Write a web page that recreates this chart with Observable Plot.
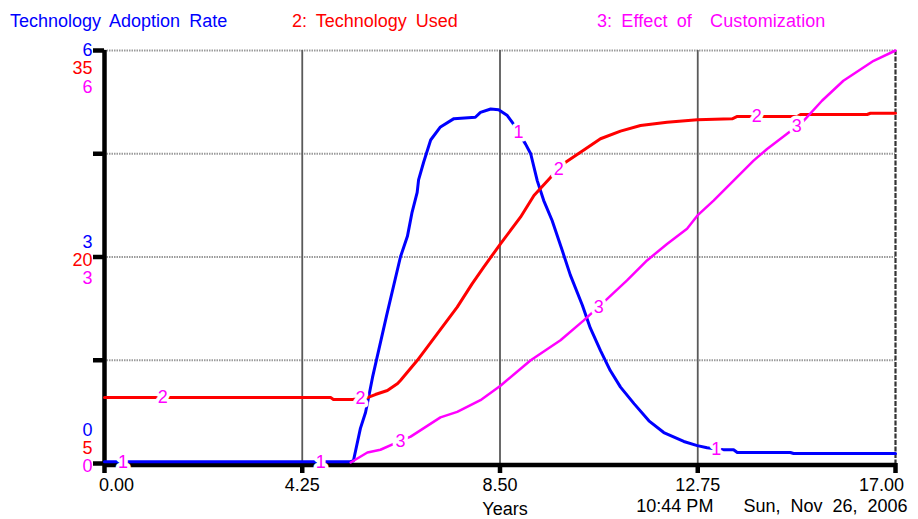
<!DOCTYPE html>
<html>
<head>
<meta charset="utf-8">
<script src="https://cdn.jsdelivr.net/npm/d3@7"></script>
<script src="https://cdn.jsdelivr.net/npm/@observablehq/plot@0.6"></script>
<style>
  body { margin: 0; background: #fff; font-family: "Liberation Sans", Arial, sans-serif; }
  #legend { position: relative; width: 918px; height: 40px; font-size: 18px; line-height: 18px; word-spacing: 4px; }
  #legend span { position: absolute; top: 11.5px; white-space: pre; }
  #chart svg { display: block; }
</style>
</head>
<body>
<div id="legend">
  <span style="left:10px;color:#0000ff">Technology Adoption Rate</span>
  <span style="left:292px;color:#ff0000">2: Technology Used</span>
  <span style="left:597px;color:#ff00ff;letter-spacing:0.1px">3: Effect of  Customization</span>
</div>
<div id="chart"></div>
<script>
// ---- Data ----
// Series 1: Technology Adoption Rate (scale 0..6)
const adoptionYears = [0, 5.29, 5.35, 5.50, 5.61, 5.67, 5.76, 6.06, 6.36, 6.51, 6.61, 6.72, 6.75, 6.86, 7.01, 7.22, 7.51, 7.97, 8.08, 8.30, 8.47, 8.65, 8.76, 9.05, 9.16, 9.30, 9.44, 9.62, 9.84, 10.01, 10.27, 10.44, 10.66, 10.87, 11.09, 11.38, 11.70, 12.02, 12.45, 12.74, 12.95, 13.30, 13.52, 13.60, 14.74, 14.81, 17];
const adoptionRate  = [0.025, 0.025, 0.04, 0.51, 0.74, 0.94, 1.25, 2.14, 3.00, 3.30, 3.65, 3.94, 4.12, 4.38, 4.70, 4.89, 5.01, 5.03, 5.10, 5.15, 5.14, 5.06, 4.96, 4.64, 4.50, 4.11, 3.82, 3.53, 3.09, 2.74, 2.30, 1.97, 1.64, 1.35, 1.11, 0.87, 0.62, 0.45, 0.32, 0.26, 0.23, 0.20, 0.20, 0.16, 0.16, 0.145, 0.145];

// Series 2: Technology Used (scale 5..35)
const usedYears = [0, 4.86, 4.92, 5.33, 5.65, 5.82, 6.08, 6.30, 6.36, 6.72, 7.15, 7.58, 7.90, 8.15, 8.51, 8.94, 9.23, 9.59, 9.91, 10.23, 10.66, 11.09, 11.52, 12.09, 12.74, 13.49, 13.60, 14.89, 14.96, 16.39, 16.46, 17];
const techUsed  = [9.79, 9.79, 9.65, 9.65, 9.79, 10.01, 10.30, 10.81, 11.03, 12.48, 14.42, 16.36, 18.05, 19.26, 20.96, 22.89, 24.47, 25.80, 26.89, 27.61, 28.59, 29.14, 29.55, 29.79, 29.97, 30.04, 30.21, 30.21, 30.35, 30.35, 30.44, 30.44];

// Series 3: Effect of Customization (scale 0..6)
const customYears  = [5.29, 5.65, 5.93, 6.30, 6.58, 7.22, 7.58, 8.08, 8.51, 9.16, 9.80, 10.30, 10.77, 11.23, 11.66, 12.09, 12.52, 12.74, 13.09, 13.52, 13.95, 14.24, 14.67, 15.03, 15.42, 15.88, 16.53, 17];
const customEffect = [0.015, 0.16, 0.20, 0.31, 0.39, 0.67, 0.75, 0.92, 1.13, 1.50, 1.79, 2.08, 2.37, 2.66, 2.95, 3.19, 3.41, 3.60, 3.82, 4.11, 4.40, 4.57, 4.79, 4.98, 5.27, 5.56, 5.85, 6.0];

// Axis ticks and labels
const xTicks = [0, 4.25, 8.5, 12.75, 17];
const xTickLabels = ["0.00", "4.25", "8.50", "12.75", "17.00"];
const gridX = [4.25, 8.5, 12.75];
const gridY = [1.5, 3, 4.5, 6];
const leftTicks = [0, 1.5, 3, 4.5, 6];
const rateTickLabels = [0, 3, 6];
const usedTickLabels = [5, 20, 35];
const effectTickLabels = [0, 3, 6];

// Curve label positions (years)
const label1Years = [0.40, 4.65, 8.90, 13.15];
const label2Years = [1.25, 5.50, 9.76, 14.02];
const label3Years = [6.36, 10.62, 14.88];

const xTitle = "Years";
const stamp = "10:44 PM\u00a0\u00a0\u00a0\u00a0\u00a0\u00a0Sun,\u00a0\u00a0Nov\u00a0\u00a026,\u00a0\u00a02006";

// ---- Build ----
const BLUE = "#0000ff", RED = "#ff0000", MAG = "#ff00ff";
const usedToRate = v => (v - 5) / 5; // map 5..35 onto 0..6

const adoption = adoptionYears.map((t, i) => ({t, v: adoptionRate[i]}));
const used = usedYears.map((t, i) => ({t, v: usedToRate(techUsed[i])}));
const custom = customYears.map((t, i) => ({t, v: customEffect[i]}));

function interp(xs, ys, x) {
  const i = d3.bisectRight(xs, x);
  if (i <= 0) return ys[0];
  if (i >= xs.length) return ys[ys.length - 1];
  const f = (x - xs[i - 1]) / (xs[i] - xs[i - 1]);
  return ys[i - 1] + f * (ys[i] - ys[i - 1]);
}
const labels = [
  ...label1Years.map(t => ({t, v: interp(adoptionYears, adoptionRate, t), s: "1"})),
  ...label2Years.map(t => ({t, v: usedToRate(interp(usedYears, techUsed, t)), s: "2"})),
  ...label3Years.map(t => ({t, v: interp(customYears, customEffect, t), s: "3"}))
];

// Left stacked tick labels: 3 series x 3 levels
const leftSets = [
  {vals: rateTickLabels, pos: v => v, color: BLUE},
  {vals: usedTickLabels, pos: usedToRate, color: RED},
  {vals: effectTickLabels, pos: v => v, color: MAG}
];
const leftMarks = [];
leftSets.forEach((set, i) => {
  set.vals.forEach((val, k) => {
    const dy = (i - (2 - k)) * 18.2 + (k === 2 ? 0 : 3);
    leftMarks.push(Plot.text([val], {
      y: d => set.pos(d), text: d => String(d), frameAnchor: "left", lineAnchor: "middle",
      textAnchor: "end", dx: -12, dy, fill: set.color, fontSize: 18
    }));
  });
});

const tickLabelData = xTicks.map((x, i) => ({x, s: xTickLabels[i]}));
const bottomText = {frameAnchor: "bottom", lineAnchor: "middle", fill: "black", fontSize: 18};

const chart = Plot.plot({
  width: 918,
  height: 479,
  marginTop: 10,
  marginBottom: 56,
  marginLeft: 104,
  marginRight: 23,
  style: {fontFamily: "'Liberation Sans', Arial, sans-serif", fontSize: "18px", background: "white", overflow: "visible"},
  x: {domain: [0, 17], axis: null},
  y: {domain: [0, 6], axis: null},
  marks: [
    Plot.ruleY(gridY, {stroke: "#9a9a9a", strokeWidth: 2.2, strokeDasharray: "1.5,1"}),
    Plot.ruleX(gridX, {stroke: "#5a5a5a", strokeWidth: 1.8}),
    Plot.ruleX([17], {stroke: "#333", strokeWidth: 2.2, strokeDasharray: "5,1.5"}),
    Plot.axisY({ticks: leftTicks, tickSize: 11, tickFormat: () => "", label: null, stroke: "black", strokeWidth: 4.5}),
    Plot.axisX({ticks: xTicks, tickSize: 10, tickFormat: () => "", label: null, stroke: "black", strokeWidth: 4.5}),
    Plot.ruleY([0], {stroke: "black", strokeWidth: 4.5, dy: 1.5}),
    Plot.ruleX([0], {stroke: "black", strokeWidth: 4.5}),
    Plot.line(adoption, {x: "t", y: "v", stroke: BLUE, strokeWidth: 3}),
    Plot.line(used, {x: "t", y: "v", stroke: RED, strokeWidth: 3}),
    Plot.line(custom, {x: "t", y: "v", stroke: MAG, strokeWidth: 2.5}),
    Plot.text(labels, {x: "t", y: "v", text: "s", fill: MAG, stroke: "white", strokeWidth: 7, fontSize: 18}),
    ...leftMarks,
    Plot.text(tickLabelData.slice(1, 4), {x: "x", text: "s", dy: 22, ...bottomText}),
    Plot.text(tickLabelData.slice(0, 1), {x: "x", text: "s", dy: 22, dx: 12, ...bottomText}),
    Plot.text(tickLabelData.slice(4), {x: "x", text: "s", dy: 22, dx: -14, ...bottomText}),
    Plot.text([xTitle], {x: 8.5, text: d => d, dy: 46, dx: 5, ...bottomText}),
    Plot.text([stamp], {x: 17, text: d => d, textAnchor: "end", dy: 43, dx: 12, ...bottomText})
  ]
});
document.getElementById("chart").append(chart);
</script>
</body>
</html>
